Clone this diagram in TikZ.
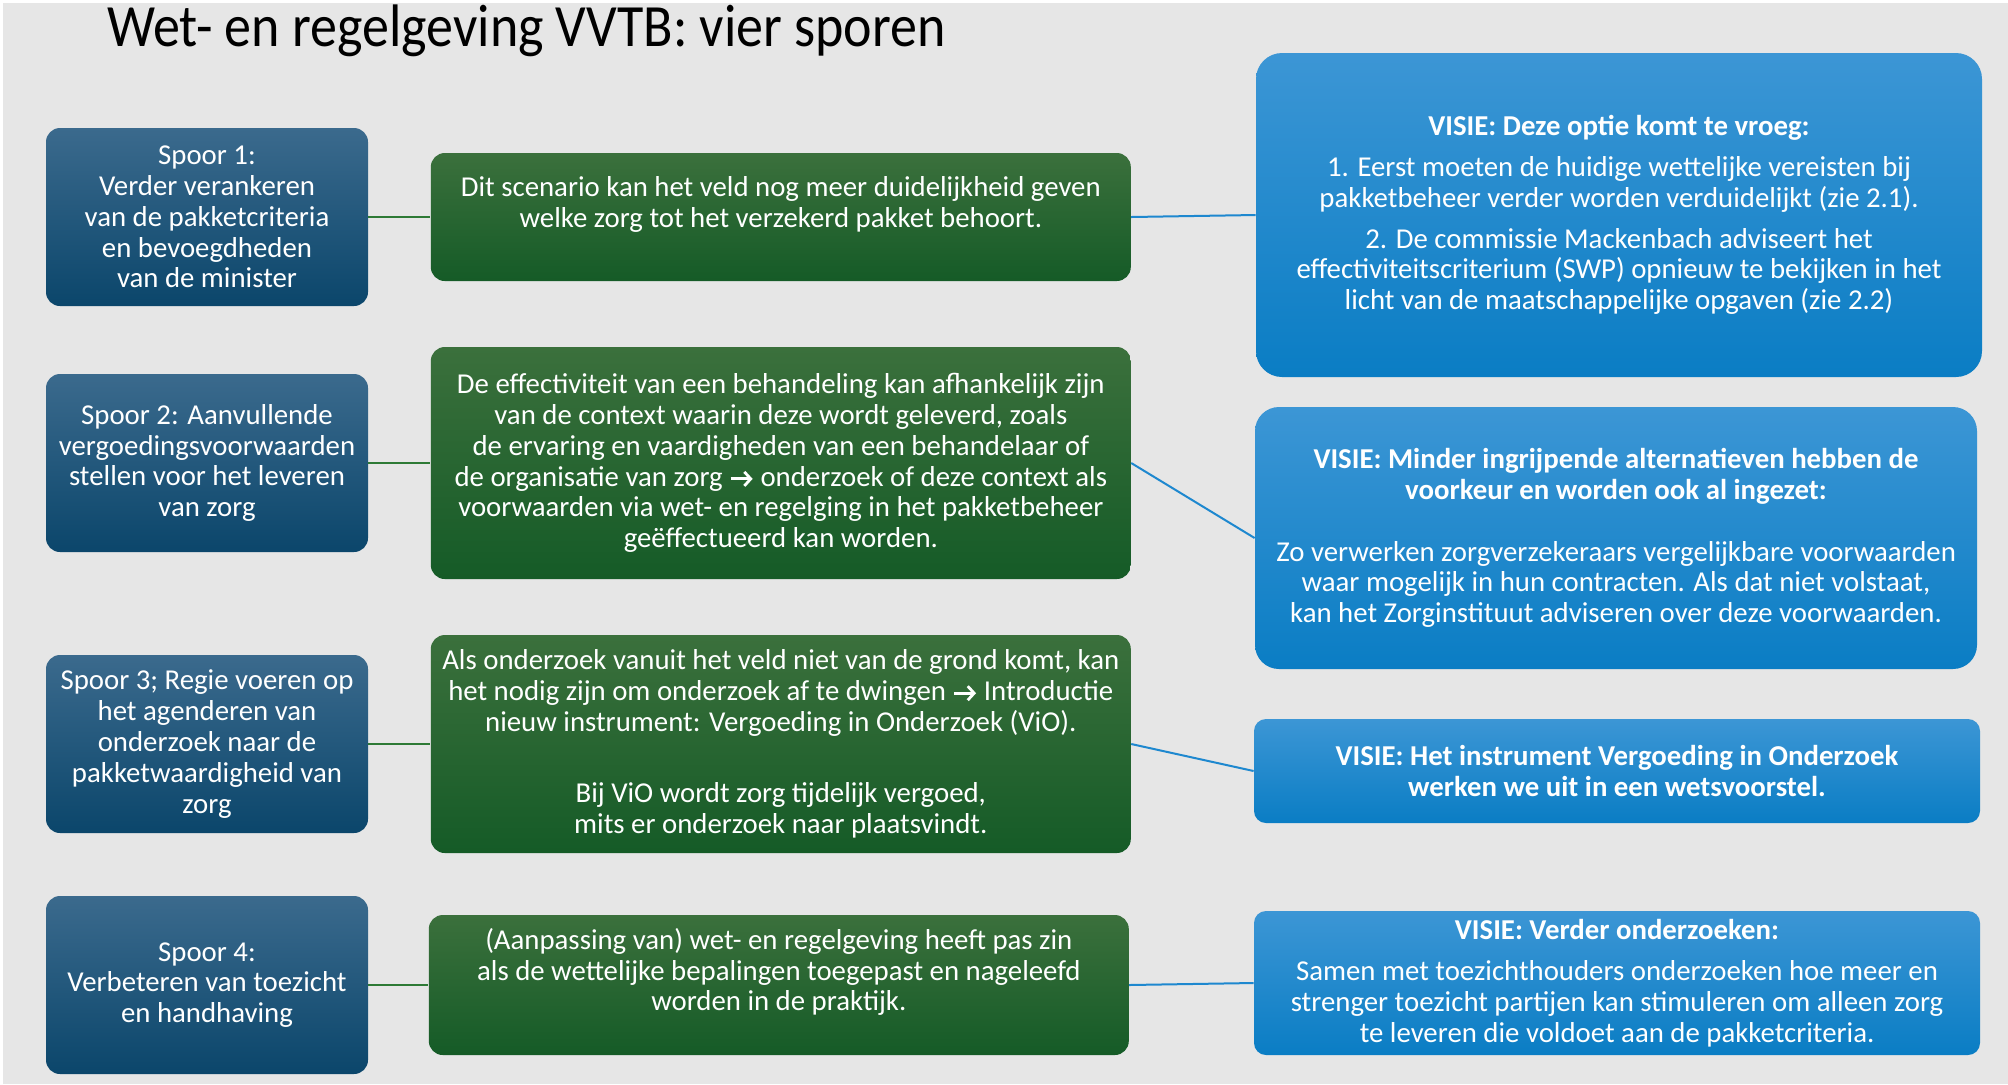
\documentclass[tikz,border=0pt]{standalone}
\usepackage{fontspec}
\setmainfont{Carlito}
\newfontfamily\titelfont[FakeStretch=0.9]{Carlito}
\usepackage{tikz}
\usepackage{xcolor}
\usetikzlibrary{positioning, arrows.meta}

\definecolor{achtergrond}{HTML}{E6E6E6}
\definecolor{spoorboven}{HTML}{3B6A8D}
\definecolor{spooronder}{HTML}{0B466B}
\definecolor{groenboven}{HTML}{3B703C}
\definecolor{groenonder}{HTML}{155B27}
\definecolor{visieboven}{HTML}{3C96D5}
\definecolor{visieonder}{HTML}{0A7DC4}
\definecolor{groenlijn}{HTML}{2E7A36}
\definecolor{blauwlijn}{HTML}{1E88CF}

% pijl in de tekst
\newcommand{\pijl}{\tikz[baseline=0pt]\draw[white, line width=1.4pt,
    -{Straight Barb[length=3.2pt, width=7pt, line width=1.4pt]}] (0,3.6pt) -- (11pt,3.6pt);}

\tikzset{
  tekst/.style={text=white, align=center, inner sep=0pt,
    font=\fontsize{14.4}{15.4}\selectfont},
  spoorbox/.style={tekst, rounded corners=7pt, top color=spoorboven,
    bottom color=spooronder, minimum width=161pt, minimum height=89pt},
  scenbox/.style={tekst, rounded corners=7pt, top color=groenboven,
    bottom color=groenonder, minimum width=350pt},
  visiebox/.style={tekst, rounded corners=10pt, top color=visieboven,
    bottom color=visieonder, minimum width=363pt},
  groenverb/.style={draw=groenlijn, line width=1.2pt},
  blauwverb/.style={draw=blauwlijn, line width=1pt}
}

\begin{document}
\begin{tikzpicture}[x=0.5pt, y=-0.5pt, node distance=31pt]
    \useasboundingbox (0,0) rectangle (2008,1084);
    \fill[white] (0,0) rectangle (2008,1084);
    \fill[achtergrond] (3,3) rectangle (2008,1084);

    \node[anchor=base west, font=\titelfont\fontsize{30}{32}\selectfont] (titel) at (100,46)
        {Wet- en regelgeving VVTB: vier sporen};

    % sporen
    \node[spoorbox] (S1) at (207,217) {Spoor 1:\\Verder verankeren\\van de pakketcriteria\\en bevoegdheden\\van de minister};
    \node[spoorbox] (S2) at (207,463) {Spoor 2: Aanvullende\\vergoedingsvoorwaarden\\stellen voor het leveren\\van zorg};
    \node[spoorbox] (S3) at (207,744) {Spoor 3; Regie voeren op\\het agenderen van\\onderzoek naar de\\pakketwaardigheid van\\zorg};
    \node[spoorbox] (S4) at (207,985) {Spoor 4:\\Verbeteren van toezicht\\en handhaving};

    % scenario's
    \node[scenbox, minimum height=64pt, right=of S1] (G1) {Dit scenario kan het veld nog meer duidelijkheid geven\\welke zorg tot het verzekerd pakket behoort.\\\mbox{}};
    \node[scenbox, minimum height=116pt, right=of S2] (G2) {De effectiviteit van een behandeling kan afhankelijk zijn\\van de context waarin deze wordt geleverd, zoals\\de ervaring en vaardigheden van een behandelaar of\\de organisatie van zorg \pijl{} onderzoek of deze context als\\voorwaarden via wet- en regelging in het pakketbeheer\\geëffectueerd kan worden.};
    \node[scenbox, minimum height=109pt, right=of S3] (G3) {Als onderzoek vanuit het veld niet van de grond komt, kan\\het nodig zijn om onderzoek af te dwingen \pijl{} Introductie\\nieuw instrument: Vergoeding in Onderzoek (ViO).\\[20.5pt]Bij ViO wordt zorg tijdelijk vergoed,\\mits er onderzoek naar plaatsvindt.};
    \node[scenbox, minimum height=70pt, right=30pt of S4] (G4) {(Aanpassing van) wet- en regelgeving heeft pas zin\\als de wettelijke bepalingen toegepast en nageleefd\\worden in de praktijk.\\\mbox{}};

    % visie
    \node[visiebox, minimum height=162pt, rounded corners=13pt] (V1) at (1619,215) {\textbf{VISIE: Deze optie komt te vroeg:}\\[5pt]1. Eerst moeten de huidige wettelijke vereisten bij\\pakketbeheer verder worden verduidelijkt (zie 2.1).\\[5pt]2. De commissie Mackenbach adviseert het\\effectiviteitscriterium (SWP) opnieuw te bekijken in het\\licht van de maatschappelijke opgaven (zie 2.2)};
    \node[visiebox, minimum width=361pt, minimum height=131pt, rounded corners=12pt] (V2) at (1616,538) {\textbf{VISIE: Minder ingrijpende alternatieven hebben de}\\\textbf{voorkeur en worden ook al ingezet:}\\[15.4pt]Zo verwerken zorgverzekeraars vergelijkbare voorwaarden\\waar mogelijk in hun contracten. Als dat niet volstaat,\\kan het Zorginstituut adviseren over deze voorwaarden.};
    \node[visiebox, minimum height=52pt, rounded corners=6pt] (V3) at (1617,771) {\textbf{VISIE: Het instrument Vergoeding in Onderzoek}\\\textbf{werken we uit in een wetsvoorstel.}};
    \node[visiebox, minimum height=72pt, rounded corners=6pt] (V4) at (1617,983) {\textbf{VISIE: Verder onderzoeken:}\\[5pt]Samen met toezichthouders onderzoeken hoe meer en\\strenger toezicht partijen kan stimuleren om alleen zorg\\te leveren die voldoet aan de pakketcriteria.};

    % verbindingen
    \foreach \i in {1,...,4} {
        \draw[groenverb] (S\i.east) -- (G\i.west);
        \draw[blauwverb] (G\i.east) -- (V\i.west);
    }
\end{tikzpicture}
\end{document}
